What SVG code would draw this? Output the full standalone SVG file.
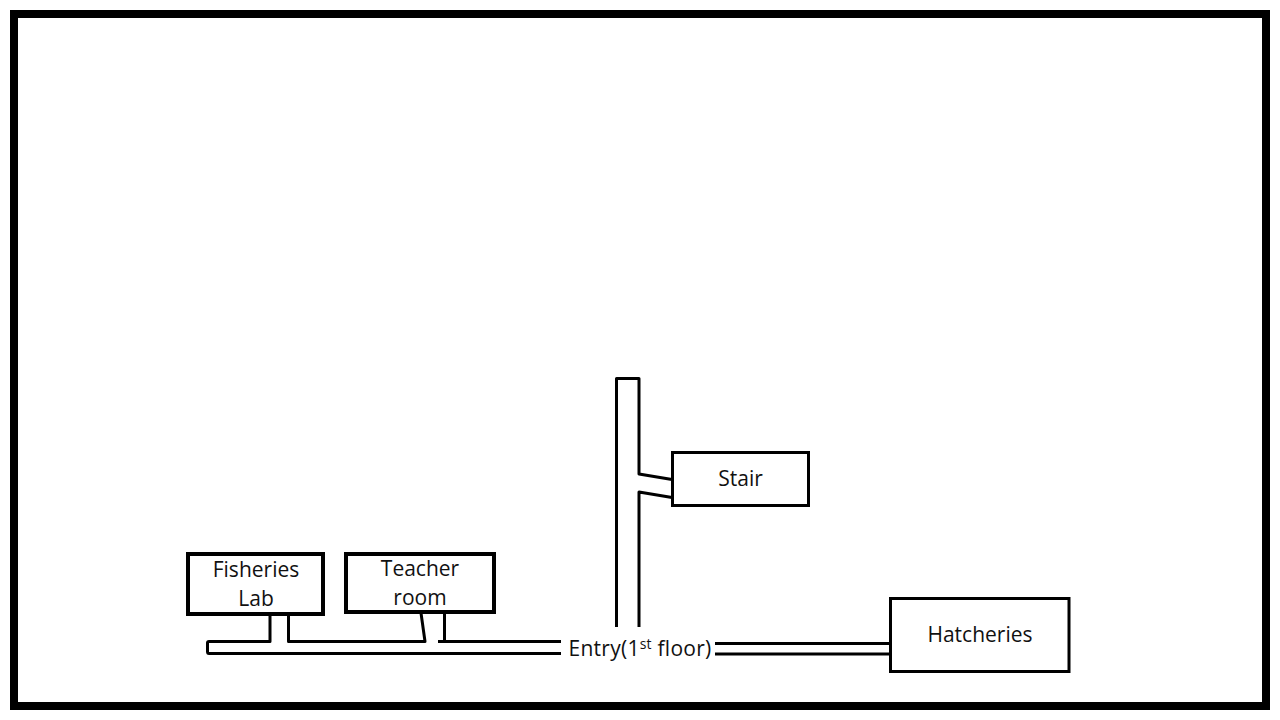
<svg xmlns="http://www.w3.org/2000/svg" width="1280" height="720" viewBox="0 0 1280 720">
<style>
.box{fill:#fff;stroke:#000;stroke-width:3}
.thick{stroke-width:4}
.wire{fill:none;stroke:#000;stroke-width:3;stroke-linejoin:round}
text{font-family:"Open Sans","Noto Sans",sans-serif;font-size:21px;fill:#111;text-anchor:middle}
</style>
<rect id="frame" x="14" y="14" width="1252" height="692" fill="#fff" stroke="#000" stroke-width="8"/>
<g id="connectors">
<path class="wire" d="M270 613V641.500H209Q207.500 641.500 207.500 643V651.500Q207.500 653.500 209 653.500H561"/>
<path class="wire" d="M288.500 613V641.500H425L421 613"/>
<path class="wire" d="M444.500 613V641.500M438 641.500H561"/>
<path class="wire" d="M616.500 627V378.500H639V474L672 479.500"/>
<path class="wire" d="M639 627V492L672 497.500"/>
<path class="wire" d="M715 643.500H890M715 654H890"/>
</g>
<g id="fisheries-lab"><rect class="box thick" x="188" y="554" width="135" height="60"/><text x="256" y="577">Fisheries</text><text x="256" y="606">Lab</text></g>
<g id="teacher-room"><rect class="box thick" x="346" y="554" width="148" height="58"/><text x="420" y="576">Teacher</text><text x="420" y="605">room</text></g>
<g id="stair"><rect class="box" x="672.500" y="452.500" width="136" height="53"/><text x="740.500" y="486">Stair</text></g>
<g id="hatcheries"><rect class="box" x="890.500" y="598.500" width="178.500" height="73"/><text x="980" y="642">Hatcheries</text></g>
<g id="entry"><text x="640" y="656" style="letter-spacing:.25px">Entry(1<tspan font-size="14" dy="-7">st</tspan><tspan dy="7"> floor)</tspan></text></g>
</svg>
